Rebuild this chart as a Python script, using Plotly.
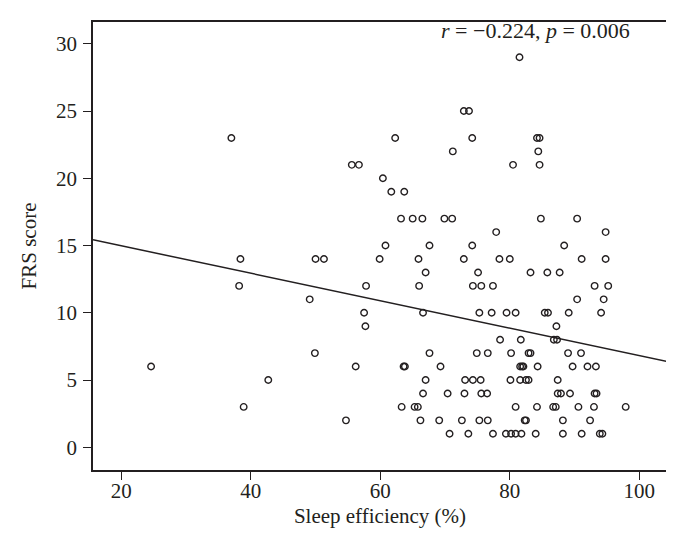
import plotly.graph_objects as go

# FRS score levels and the sleep-efficiency values (%) of the points at each level
frs_levels = [29, 25, 23, 22, 21, 20, 19, 17, 16, 15, 14, 13, 12, 11, 10, 9, 8, 7, 6, 5, 4, 3, 2, 1]
sleep_eff_by_level = [
    [81.5],
    [72.9, 73.7],
    [37.0, 62.3, 74.2, 84.2, 84.6],
    [71.2, 84.4],
    [55.6, 56.7, 80.5, 84.6],
    [60.4],
    [61.7, 63.7],
    [63.2, 65.0, 66.5, 69.9, 71.1, 84.8, 90.4],
    [77.9, 94.8],
    [60.8, 67.6, 74.2, 88.4],
    [38.4, 50.0, 51.3, 59.9, 65.9, 72.9, 78.4, 80.0, 91.1, 94.8],
    [67.0, 75.1, 83.2, 85.8, 87.7],
    [38.2, 57.8, 66.0, 74.3, 75.6, 77.4, 93.1, 95.2],
    [49.1, 90.4, 94.5],
    [57.5, 66.6, 75.3, 77.2, 79.5, 80.9, 85.4, 85.9, 89.1, 94.1],
    [57.7, 87.2],
    [78.5, 81.7, 86.8, 87.3],
    [49.9, 67.6, 74.9, 76.6, 80.2, 82.9, 83.2, 89.0, 91.0],
    [24.6, 56.2, 63.6, 63.8, 69.3, 81.6, 81.9, 82.1, 84.3, 89.7, 92.0, 93.3],
    [42.7, 67.0, 73.1, 74.3, 75.5, 80.1, 81.6, 82.5, 82.9, 87.4],
    [66.6, 70.4, 73.0, 75.6, 76.5, 87.4, 87.9, 89.3, 93.1, 93.4],
    [38.9, 63.3, 65.3, 65.8, 80.9, 84.2, 86.7, 87.1, 90.6, 93.0, 97.9],
    [54.7, 66.2, 69.1, 72.6, 75.3, 76.6, 82.3, 82.5, 88.2, 92.4],
    [70.7, 73.6, 77.4, 79.4, 80.2, 80.9, 81.8, 84.0, 88.2, 91.1, 93.9, 94.3],
]

# regression line
fit_intercept = 17.02
fit_slope = -0.102

x_range = [15.63, 104.28]
y_range = [-1.69, 31.62]
x_ticks = [20, 40, 60, 80, 100]
y_ticks = [0, 5, 10, 15, 20, 25, 30]

stat_text = "<i>r</i> = \u22120.224, <i>p</i> = 0.006"
x_title = "Sleep efficiency (%)"
y_title = "FRS score"

xs, ys = [], []
for lvl, vals in zip(frs_levels, sleep_eff_by_level):
    for v in vals:
        xs.append(v)
        ys.append(lvl)

FONT = "Liberation Serif"
INK = "#231f20"

fig = go.Figure()
fig.add_trace(go.Scatter(
    x=xs, y=ys, mode="markers",
    marker=dict(symbol="circle-open", size=6.5, color=INK, line=dict(width=1.4)),
    showlegend=False, hoverinfo="x+y",
))
line_x = list(x_range)
line_y = [fit_intercept + fit_slope * v for v in line_x]
fig.add_trace(go.Scatter(
    x=line_x, y=line_y, mode="lines",
    line=dict(color=INK, width=1.5), showlegend=False, hoverinfo="skip",
))

axis_common = dict(
    showgrid=False, zeroline=False, showline=True, linecolor=INK, linewidth=1.5,
    mirror=True, ticks="outside", ticklen=8, tickwidth=1.3, tickcolor=INK,
    tickfont=dict(family=FONT, size=21, color=INK),
)
fig.update_xaxes(range=x_range, tickvals=x_ticks, ticklabelstandoff=-7,
                 title=dict(text=x_title, font=dict(family=FONT, size=21, color=INK), standoff=6),
                 **axis_common)
fig.update_yaxes(range=y_range, tickvals=y_ticks, ticklabelstandoff=2,
                 title=dict(text=y_title, font=dict(family=FONT, size=21, color=INK), standoff=14),
                 **axis_common)

fig.add_annotation(
    x=98.8, y=31.0, xref="x", yref="y", text=stat_text, showarrow=False,
    xanchor="right", yanchor="middle", font=dict(family=FONT, size=22, color=INK),
)

fig.update_layout(
    width=674, height=544,
    margin=dict(l=85, r=15, t=14, b=82),
    paper_bgcolor="white", plot_bgcolor="white",
    font=dict(family=FONT, color=INK),
)

fig.write_html("out.html")
